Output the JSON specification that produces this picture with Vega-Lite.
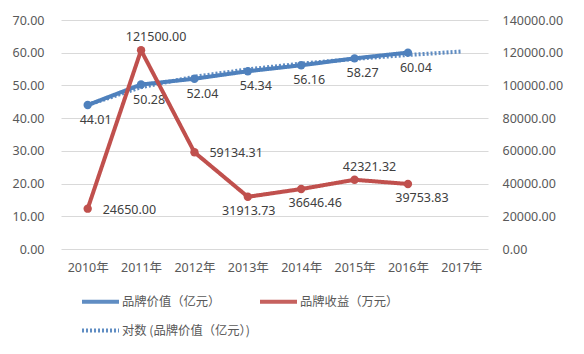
{
  "$schema": "https://vega.github.io/schema/vega-lite/v6.json",
  "width": 427,
  "height": 229,
  "autosize": {"type": "none"},
  "padding": {"left": 61, "top": 20, "right": 96, "bottom": 105},
  "background": "white",
  "config": {
    "view": {"stroke": null},
    "font": "Noto Sans, Noto Sans CJK SC",
    "axis": {"labelColor": "#595959", "labelFontSize": 12.5, "domain": false, "ticks": false, "tickSize": 0, "gridColor": "#d9d9d9", "gridWidth": 1, "title": null},
    "legend": {"symbolType": "stroke", "symbolSize": 1369, "labelFontSize": 12.3, "labelColor": "#595959", "labelFont": "Noto Sans CJK SC", "columnPadding": -5, "rowPadding": -18, "labelOffset": 1, "padding": 0, "title": null, "columns": 2, "direction": "horizontal", "labelLimit": 300}
  },
  "data": {
    "values": [
      {"year": "2010年", "series": "品牌价值（亿元）", "value": 44.01},
      {"year": "2011年", "series": "品牌价值（亿元）", "value": 50.28},
      {"year": "2012年", "series": "品牌价值（亿元）", "value": 52.04},
      {"year": "2013年", "series": "品牌价值（亿元）", "value": 54.34},
      {"year": "2014年", "series": "品牌价值（亿元）", "value": 56.16},
      {"year": "2015年", "series": "品牌价值（亿元）", "value": 58.27},
      {"year": "2016年", "series": "品牌价值（亿元）", "value": 60.04},
      {"year": "2010年", "series": "品牌收益（万元）", "value": 24650.00},
      {"year": "2011年", "series": "品牌收益（万元）", "value": 121500.00},
      {"year": "2012年", "series": "品牌收益（万元）", "value": 59134.31},
      {"year": "2013年", "series": "品牌收益（万元）", "value": 31913.73},
      {"year": "2014年", "series": "品牌收益（万元）", "value": 36646.46},
      {"year": "2015年", "series": "品牌收益（万元）", "value": 42321.32},
      {"year": "2016年", "series": "品牌收益（万元）", "value": 39753.83},
      {"year": "2010年", "series": "对数 (品牌价值（亿元）)", "value": 44.02},
      {"year": "2011年", "series": "对数 (品牌价值（亿元）)", "value": 49.47},
      {"year": "2012年", "series": "对数 (品牌价值（亿元）)", "value": 52.65},
      {"year": "2013年", "series": "对数 (品牌价值（亿元）)", "value": 54.91},
      {"year": "2014年", "series": "对数 (品牌价值（亿元）)", "value": 56.67},
      {"year": "2015年", "series": "对数 (品牌价值（亿元）)", "value": 58.10},
      {"year": "2016年", "series": "对数 (品牌价值（亿元）)", "value": 59.31},
      {"year": "2017年", "series": "对数 (品牌价值（亿元）)", "value": 60.36}
    ]
  },
  "encoding": {
    "x": {
      "field": "year", "type": "ordinal",
      "scale": {"type": "point", "padding": 0.5, "domain": ["2010年", "2011年", "2012年", "2013年", "2014年", "2015年", "2016年", "2017年"]},
      "axis": {"labelAngle": 0, "labelPadding": 12, "grid": false}
    }
  },
  "layer": [
    {
      "encoding": {
        "y": {
          "field": "value", "type": "quantitative",
          "scale": {"domain": [0, 70], "nice": false, "zero": true},
          "axis": {"orient": "left", "grid": true, "values": [0, 10, 20, 30, 40, 50, 60, 70], "format": ".2f", "labelPadding": 17}
        }
      },
      "layer": [
        {
          "transform": [{"filter": "datum.series === '品牌价值（亿元）'"}],
          "mark": {"type": "line", "strokeCap": "round", "strokeJoin": "round"},
          "encoding": {
            "color": {"field": "series", "type": "nominal", "scale": {"domain": ["品牌价值（亿元）", "品牌收益（万元）", "对数 (品牌价值（亿元）)"], "range": ["#4f81bd", "#c0504d", "#4f81bd"]}, "legend": {"orient": "none", "legendX": 19, "legendY": 261}},
            "strokeDash": {"field": "series", "type": "nominal", "scale": {"domain": ["品牌价值（亿元）", "品牌收益（万元）", "对数 (品牌价值（亿元）)"], "range": [[1, 0], [1, 0], [2, 2]]}, "legend": {"orient": "none", "legendX": 19, "legendY": 261}},
            "strokeWidth": {"field": "series", "type": "nominal", "scale": {"domain": ["品牌价值（亿元）", "品牌收益（万元）", "对数 (品牌价值（亿元）)"], "range": [4, 4, 2]}, "legend": {"orient": "none", "legendX": 19, "legendY": 261}}
          }
        },
        {
          "transform": [{"filter": "datum.series === '品牌价值（亿元）'"}],
          "mark": {"type": "point", "filled": true, "size": 70, "color": "#4f81bd", "opacity": 1}
        },
        {
          "transform": [{"filter": "datum.series === '对数 (品牌价值（亿元）)'"}],
          "mark": {"type": "line", "opacity": 0.9},
          "encoding": {
            "color": {"field": "series", "type": "nominal", "scale": {"domain": ["品牌价值（亿元）", "品牌收益（万元）", "对数 (品牌价值（亿元）)"], "range": ["#4f81bd", "#c0504d", "#4f81bd"]}, "legend": {"orient": "none", "legendX": 19, "legendY": 261}},
            "strokeDash": {"field": "series", "type": "nominal", "scale": {"domain": ["品牌价值（亿元）", "品牌收益（万元）", "对数 (品牌价值（亿元）)"], "range": [[1, 0], [1, 0], [2, 2]]}, "legend": {"orient": "none", "legendX": 19, "legendY": 261}},
            "strokeWidth": {"field": "series", "type": "nominal", "scale": {"domain": ["品牌价值（亿元）", "品牌收益（万元）", "对数 (品牌价值（亿元）)"], "range": [4, 4, 2]}, "legend": {"orient": "none", "legendX": 19, "legendY": 261}}
          }
        },
        {
          "transform": [{"filter": "datum.series === '品牌价值（亿元）'"}],
          "mark": {"type": "text", "dx": 8, "dy": 15, "fontSize": 12.5, "color": "#404040"},
          "encoding": {"text": {"field": "value", "type": "quantitative", "format": ".2f"}}
        }
      ]
    },
    {
      "encoding": {
        "y": {
          "field": "value", "type": "quantitative",
          "scale": {"domain": [0, 140000], "nice": false, "zero": true},
          "axis": {"orient": "right", "grid": false, "values": [0, 20000, 40000, 60000, 80000, 100000, 120000, 140000], "format": ".2f", "labelPadding": 14}
        }
      },
      "transform": [{"filter": "datum.series === '品牌收益（万元）'"}],
      "layer": [
        {
          "mark": {"type": "line", "strokeCap": "round", "strokeJoin": "round"},
          "encoding": {
            "color": {"field": "series", "type": "nominal", "scale": {"domain": ["品牌价值（亿元）", "品牌收益（万元）", "对数 (品牌价值（亿元）)"], "range": ["#4f81bd", "#c0504d", "#4f81bd"]}, "legend": {"orient": "none", "legendX": 19, "legendY": 261}},
            "strokeDash": {"field": "series", "type": "nominal", "scale": {"domain": ["品牌价值（亿元）", "品牌收益（万元）", "对数 (品牌价值（亿元）)"], "range": [[1, 0], [1, 0], [2, 2]]}, "legend": {"orient": "none", "legendX": 19, "legendY": 261}},
            "strokeWidth": {"field": "series", "type": "nominal", "scale": {"domain": ["品牌价值（亿元）", "品牌收益（万元）", "对数 (品牌价值（亿元）)"], "range": [4, 4, 2]}, "legend": {"orient": "none", "legendX": 19, "legendY": 261}}
          }
        },
        {
          "mark": {"type": "point", "filled": true, "size": 70, "color": "#c0504d", "opacity": 1}
        },
        {
          "transform": [{"filter": "datum.year === '2010年' || datum.year === '2012年'"}],
          "mark": {"type": "text", "align": "left", "dx": 15, "dy": 1, "fontSize": 12.5, "color": "#404040"},
          "encoding": {"text": {"field": "value", "type": "quantitative", "format": ".2f"}}
        },
        {
          "transform": [{"filter": "datum.year === '2011年' || datum.year === '2015年'"}],
          "mark": {"type": "text", "dx": 15, "dy": -13, "fontSize": 12.5, "color": "#404040"},
          "encoding": {"text": {"field": "value", "type": "quantitative", "format": ".2f"}}
        },
        {
          "transform": [{"filter": "datum.year === '2013年'"}],
          "mark": {"type": "text", "dx": 1, "dy": 14, "fontSize": 12.5, "color": "#404040"},
          "encoding": {"text": {"field": "value", "type": "quantitative", "format": ".2f"}}
        },
        {
          "transform": [{"filter": "datum.year === '2014年' || datum.year === '2016年'"}],
          "mark": {"type": "text", "dx": 14, "dy": 14, "fontSize": 12.5, "color": "#404040"},
          "encoding": {"text": {"field": "value", "type": "quantitative", "format": ".2f"}}
        }
      ]
    }
  ],
  "resolve": {"scale": {"y": "independent"}}
}
